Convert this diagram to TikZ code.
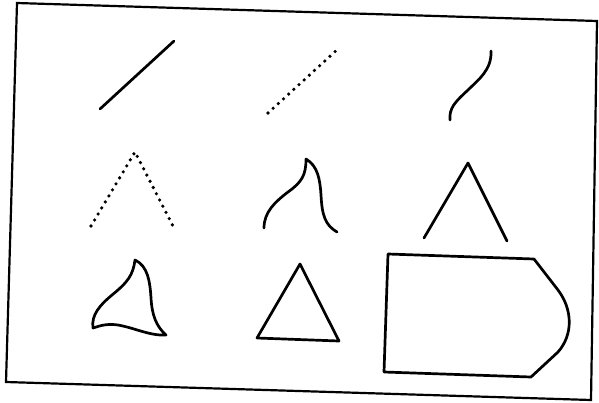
\documentclass[tikz,border=0pt]{standalone}
\begin{document}
\begin{tikzpicture}[x=1pt,y=-1pt,
  stroke/.style={line width=2.7pt,line cap=round,line join=round},
  dots/.style={line width=3.6pt,line cap=round,dash pattern=on 0pt off 7pt},
  frame/.style={line width=2.2pt,line join=miter}]
\useasboundingbox (0,0) rectangle (599,402);
% frame
\draw[frame] (17,3) -- (597,21) -- (591,400) -- (6,382) -- cycle;
% row 1
\draw[stroke] (100,109) -- (174,41);
\draw[dots] (268,113) -- (339,48);
\draw[stroke] (491,51) .. controls (492,70) and (478,80) .. (468,90)
  .. controls (455,102) and (449,108) .. (450,120);
% row 2
\draw[dots] (91,226) -- (135,152) -- (174,228);
\draw[stroke] (264,228) .. controls (264,212) and (275,202) .. (288,192)
  .. controls (302,182) and (306,175) .. (306,159)
  .. controls (318,166) and (320,180) .. (321,195)
  .. controls (322,215) and (325,225) .. (337,232);
\draw[stroke] (424,238) -- (468,163) -- (507,241);
% row 3
\draw[stroke] (135,260) .. controls (148,266) and (150,282) .. (151,298)
  .. controls (152,315) and (156,326) .. (166,335)
  .. controls (150,336) and (135,328) .. (118,325)
  .. controls (105,323) and (97,327) .. (93,328)
  .. controls (91,315) and (100,305) .. (112,295)
  .. controls (128,282) and (133,275) .. (135,260) -- cycle;
\draw[stroke] (300,264) -- (339,341) -- (257,338) -- cycle;
\draw[stroke] (388,254) -- (534,259) -- (558,290)
  .. controls (573,310) and (573,335) .. (558,352) -- (531,377) -- (384,372) -- cycle;
\end{tikzpicture}
\end{document}
